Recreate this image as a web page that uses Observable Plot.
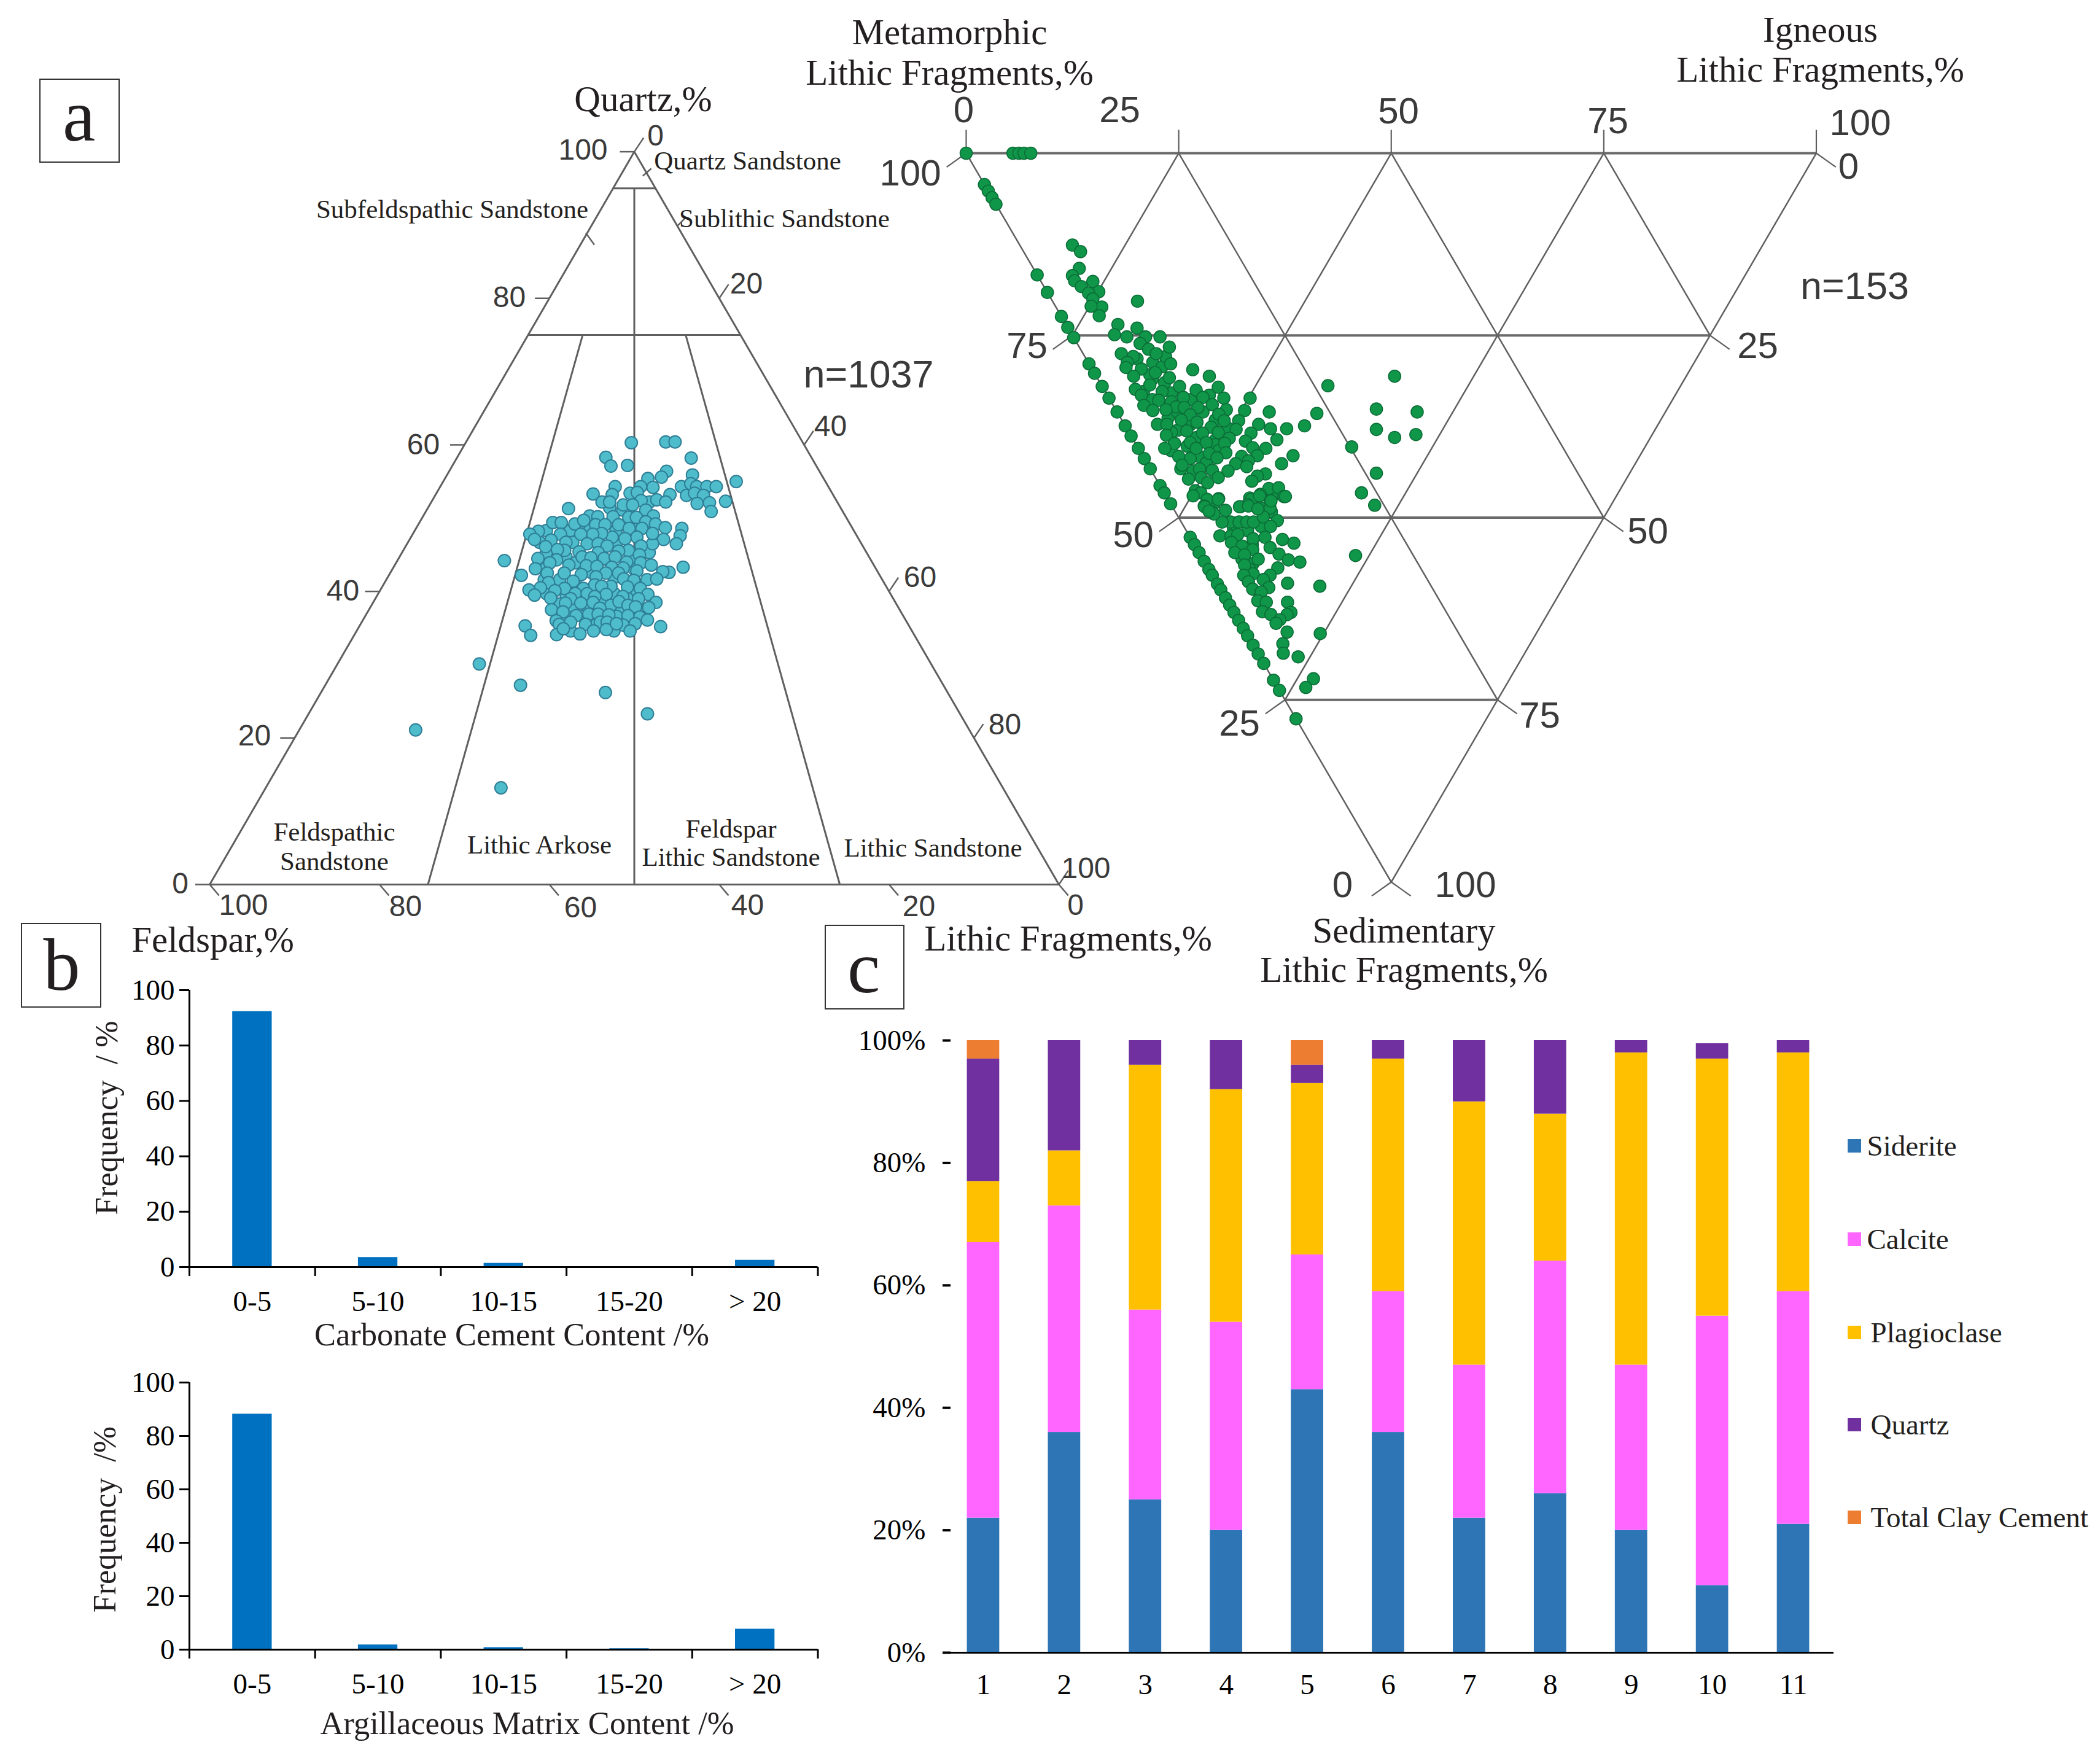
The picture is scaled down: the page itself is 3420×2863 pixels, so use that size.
<!DOCTYPE html>
<html><head><meta charset="utf-8">
<script src="https://cdn.jsdelivr.net/npm/d3@7"></script>
<script src="https://cdn.jsdelivr.net/npm/@observablehq/plot@0.6"></script>
<style>
html,body{margin:0;padding:0;background:#fff}
#page{position:relative;width:3420px;height:2863px;overflow:hidden;background:#fff}
#page svg{position:absolute;max-width:none}
.box{position:absolute;border:2.5px solid #333;box-sizing:border-box}
.sw{position:absolute;width:22px;height:22px}
</style></head><body><div id="page"></div>
<script>
// ---- Panel a: QFL framework, [quartz %, lithic %] (feldspar = 100 - quartz - lithic)
const qflHidden = [
[45.3,17.0],[46.7,19.4],[46.7,24.6],[45.3,29.1],[44.7,19.6],[43.0,17.9],[41.6,20.4],[43.9,21.1],[42.5,23.8],[44.4,24.1],[44.4,27.5],[43.0,28.5],[41.9,26.7],[41.1,22.5],[41.6,18.6],[40.2,25.0],[39.4,22.3],[38.8,24.6],[39.7,27.8],[39.9,29.7],[38.6,26.8],[39.1,29.6],[38.3,22.1],[37.7,23.9],[38.0,25.5],[37.4,29.4],[37.4,32.3],[34.6,25.2],[36.6,25.7],[35.5,27.8],[36.6,29.6],[34.6,30.3],[36.6,23.7],[39.7,19.8],[48.9,19.1],[48.3,23.7],[48.9,25.8],[48.3,20.6],[48.3,18.3],[48.3,15.5],[46.7,15.5],[51.1,23.1],[51.4,21.4],[52.2,25.7]];
const qflSamples = [
[60.3,19.5],[60.4,23.5],[60.4,24.6],[58.3,17.5],[57.1,18.7],[57.2,20.6],[58.2,27.6],[56.4,25.6],[55.6,25.4],[55.4,23.9],[55.9,28.9],[54.3,28.4],[54.7,29.3],[54.3,30.2],[54.3,31.4],[54.3,32.5],[55.0,34.5],[53.1,29.6],[53.4,30.4],[53.1,31.6],[52.0,31.4],[52.1,32.8],[52.3,34.6],[50.9,33.6],[53.2,27.6],[52.5,26.4],[52.2,27.6],[54.2,25.1],[54.3,23.6],[54.3,20.6],[53.3,18.5],[53.2,20.8],[53.4,22.8],[53.5,23.6],[52.4,24.6],[52.2,20.1],[52.2,21.0],[51.8,22.8],[51.8,23.9],[51.1,25.8],[51.3,16.6],[50.3,19.6],[50.2,20.6],[50.2,22.4],[50.1,24.3],[50.1,25.2],[50.3,27.1],[49.5,26.6],[49.4,15.7],[49.4,16.7],[49.2,18.4],[49.7,19.2],[49.1,20.9],[49.1,22.0],[49.1,23.6],[48.6,25.1],[48.6,26.6],[49.2,27.9],[48.7,29.3],[48.6,31.3],[47.6,31.6],[46.5,31.7],[47.1,29.9],[46.5,28.9],[47.9,28.2],[47.4,26.6],[47.2,25.3],[47.4,23.7],[47.9,22.2],[47.8,21.2],[47.8,19.8],[47.8,17.4],[48.2,14.6],[47.8,13.8],[47.1,14.7],[47.0,16.7],[46.7,18.6],[46.1,16.5],[46.5,21.2],[46.5,22.5],[46.2,23.7],[46.2,27.7],[45.6,26.5],[45.5,25.4],[45.6,19.0],[45.7,18.1],[45.4,20.8],[45.3,23.1],[45.0,28.1],[44.5,16.4],[44.3,18.7],[44.7,21.5],[44.6,22.6],[44.5,24.2],[44.7,25.4],[44.0,27.1],[43.9,28.8],[43.6,30.2],[44.2,12.6],[43.1,16.8],[43.9,18.1],[43.6,20.5],[43.5,22.6],[43.4,23.9],[43.3,25.7],[43.2,27.1],[42.8,28.9],[43.3,34.1],[42.6,32.8],[42.7,32.0],[42.5,18.5],[42.5,20.5],[42.3,22.6],[42.5,25.4],[42.5,26.9],[42.2,15.6],[42.0,24.5],[41.7,27.9],[41.6,30.7],[41.7,31.8],[41.2,19.3],[41.4,22.1],[40.9,24.9],[40.7,26.9],[41.5,29.2],[40.5,18.7],[40.4,21.6],[40.4,23.8],[40.7,25.8],[40.6,28.9],[40.4,30.5],[40.2,17.5],[39.5,18.5],[40.1,20.6],[39.7,23.2],[39.7,24.6],[39.6,26.9],[39.3,29.0],[39.6,31.8],[39.1,20.6],[39.0,23.0],[39.3,25.7],[39.0,31.0],[38.4,22.7],[38.4,24.5],[38.5,25.9],[38.1,28.2],[38.6,28.9],[38.1,30.2],[37.9,31.2],[38.5,33.3],[37.8,32.8],[37.7,27.1],[37.5,21.5],[37.2,23.0],[36.7,24.8],[36.9,26.2],[36.9,27.3],[36.8,28.6],[36.7,30.9],[36.5,32.4],[36.0,22.8],[35.5,23.4],[35.8,24.6],[35.5,26.5],[35.8,28.1],[35.8,28.9],[35.4,31.0],[35.6,32.3],[36.1,33.5],[35.3,19.5],[35.2,35.5],[34.0,20.8],[34.1,23.8],[34.2,26.5],[34.6,27.9],[34.8,29.3],[34.6,32.2],[34.9,24.2],[35.6,30.1],
[30.1,16.7],[27.2,23.0],[26.2,33.5],[23.3,39.9],[21.1,13.7],[13.2,27.7]];
const qTicks = [100,80,60,40,20,0];
const lTicks = [0,20,40,60,80,100];
const fTicks = [100,80,60,40,20,0];

// ---- Panel a, right: lithic fragments, [sedimentary %, igneous %] (metamorphic = 100 - both)
const lithicOnEdge = [[16.7,0],[19.1,0],[22.4,0],[23.9,0],[25.3,0],[28.9,0],[30.2,0],[32.0,0],[33.6,0],[35.5,0],[37.4,0],[38.8,0],[40.5,0],[41.9,0],[43.3,0],[45.6,0],[46.6,0],[48.1,0],[52.7,0],[53.7,0],[54.8,0],[56.0,0],[57.1,0],[57.9,0],[59.1,0],[59.9,0],[61.0,0],[62.0,0],[63.0,0],[64.1,0],[65.2,0],[66.2,0],[67.5,0],[68.7,0],[70.0,0],[72.3,0],[73.7,0],[77.6,0],[4.3,0],[5.2,0],[6.1,0],[7.0,0],[0,0],[0,5.5],[0,6.2],[0,6.8],[0,7.6]];
const lithicHidden = [[31.0,6.4],[31.5,7.6],[32.7,4.5],[32.9,7.7],[33.8,9.5],[34.1,7.1],[33.2,12.0],[33.8,5.0],[36.3,5.6],[35.5,7.1],[37.2,7.8],[35.5,10.1],[36.6,11.0],[38.0,5.9],[39.0,7.6],[39.3,9.7],[37.7,11.9],[40.8,3.7],[40.2,5.9],[41.6,6.6],[40.0,9.3],[41.9,5.4],[42.5,7.0],[38.3,5.0],[40.8,9.3],[43.3,3.6],[43.6,4.9],[28.2,6.0],[28.7,7.6],[29.3,8.4],[27.9,9.5],[30.4,6.4],[51.5,5.7],[51.8,7.2],[51.2,9.1],[53.7,6.8],[55.7,4.6],[56.3,5.6],[57.1,4.8],[48.1,5.1],[49.0,6.0],[49.0,10.8],[49.2,11.3],[47.3,9.7],[46.7,12.0],[46.7,13.4]];
const lithicSamples = [
[12.6,6.2],[13.5,6.7],[15.8,5.4],[16.8,4.1],[17.5,4.0],[18.3,4.4],[17.6,6.1],[19.0,6.1],[19.2,4.8],[20.0,4.9],[21.1,5.4],[21.0,4.2],[22.3,4.5],[20.3,10.0],[23.5,6.1],[24.9,5.0],[25.2,6.3],[24.0,8.1],[25.2,8.5],[25.2,10.2],[26.1,7.4],[26.9,8.0],[26.6,10.6],[27.5,8.6],[27.5,4.5],[27.9,5.7],[28.9,9.6],[28.7,4.6],[29.4,4.1],[29.6,5.8],[30.1,7.2],[29.7,11.8],[30.6,13.3],[32.1,13.6],[30.6,4.4],[30.8,8.5],[31.8,5.7],[32.0,9.1],[32.4,3.7],[32.7,6.7],[33.2,4.0],[32.5,10.8],[33.5,8.8],[33.5,11.1],[33.6,13.5],[34.6,3.6],[33.9,5.7],[34.5,11.7],[34.8,7.3],[34.9,9.8],[35.3,4.3],[35.2,5.9],[34.9,8.2],[35.2,13.0],[35.9,8.4],[35.8,11.8],[35.3,15.1],[33.6,16.6],[35.5,17.9],[37.2,3.9],[37.2,5.0],[36.6,7.0],[36.9,8.7],[37.6,10.0],[36.7,12.0],[36.7,13.7],[37.9,12.8],[37.2,15.8],[37.8,16.9],[37.8,18.8],[37.4,21.1],[35.7,23.4],[31.9,26.6],[38.7,4.2],[38.1,6.9],[38.4,8.6],[38.3,10.5],[38.4,14.3],[39.1,11.4],[39.5,13.1],[39.3,16.9],[39.8,4.6],[39.7,6.5],[39.7,8.4],[39.8,10.5],[40.5,3.1],[40.5,6.8],[41.2,8.0],[41.1,10.0],[40.4,13.5],[40.5,15.0],[41.6,4.2],[41.8,8.6],[41.6,11.6],[41.5,13.5],[41.5,17.7],[42.6,15.8],[42.2,12.1],[42.6,10.4],[42.8,4.0],[43.6,9.0],[43.5,7.2],[43.3,5.8],[44.7,3.8],[44.5,5.4],[45.2,5.8],[44.5,7.4],[43.0,11.5],[44.0,13.2],[44.3,12.1],[45.0,11.1],[46.3,3.8],[46.6,4.3],[47.0,3.2],[47.5,4.6],[47.4,6.0],[48.4,3.8],[49.2,4.3],[46.0,12.6],[45.9,13.8],[46.8,11.2],[47.1,13.8],[47.7,11.9],[47.5,9.8],[48.5,8.0],[48.2,9.0],[48.7,10.3],[48.7,11.4],
[30.6,35.1],[35.1,30.7],[35.5,35.3],[37.9,29.3],[39.0,30.9],[38.6,33.6],[40.3,25.2],[43.9,26.3],[46.6,23.2],[48.3,23.9],
[52.5,3.6],[50.6,5.8],[50.6,4.8],[50.6,6.8],[50.6,7.7],[50.6,8.5],[49.9,10.0],[50.4,11.4],[51.2,10.2],[48.5,3.8],[49.5,4.4],[47.5,5.9],[48.5,7.9],[48.4,9.0],[47.0,11.0],[47.7,12.0],[47.1,14.0],[48.8,9.9],[49.1,4.0],[52.5,4.9],[52.3,5.8],[52.9,7.3],[52.7,8.8],[53.0,10.7],[53.5,11.8],[53.4,4.5],[53.9,5.5],[54.4,6.5],[54.1,8.7],[55.0,9.3],[54.8,4.2],[55.1,5.2],[55.7,6.5],[55.8,10.0],[56.1,11.2],[56.5,4.5],[56.9,8.2],[57.7,4.9],[57.9,3.7],[57.9,6.8],[58.5,5.7],[58.8,3.8],[59.0,8.3],[59.4,11.9],[59.8,3.8],[59.6,5.8],[60.2,4.6],[61.4,3.6],[61.6,4.5],[61.6,7.0],[62.9,3.4],[63.3,4.2],[63.0,6.7],[63.3,6.1],[64.0,4.9],[64.5,4.2],[55.2,18.2],[65.7,4.9],[65.9,8.7],[67.3,3.6],[68.6,3.0],[69.1,4.5],[72.1,4.8],[73.3,3.3]];
const gridTicks = [25,50,75];
const edgeTicks = [0,25,50,75,100];

// ---- Panel b
const bins = ["0-5","5-10","10-15","15-20","> 20"];
const carbonateFreq = [92.3,3.5,1.4,0.2,2.5];
const matrixFreq = [88.2,1.8,0.8,0.4,7.7];

// ---- Panel c
const samples = [1,2,3,4,5,6,7,8,9,10,11];
const components = ["Siderite","Calcite","Plagioclase","Quartz","Total Clay Cement"];
const colors = ["#2e75b6","#ff66ff","#ffc000","#7030a0","#ed7d31"];
const siderite = [22,36,25,20,43,36,22,26,20,11,21];
const calcite = [45,37,31,34,22,23,25,38,27,44,38];
const plagioclase = [10,9,40,38,28,38,43,24,51,42,39];
const quartz = [20,18,4,8,3,3,10,12,2,2.5,2];
const clay = [3,0,0,0,4,0,0,0,0,0,0];

const page = document.getElementById("page");
const SERIF = "Liberation Serif", SANS = "Liberation Sans";
const LINE = "#5f5f5f";
function place(svg,left,top){svg.style.left=left+"px";svg.style.top=top+"px";page.appendChild(svg);return svg;}
const base = {style:{background:"transparent",overflow:"visible",maxWidth:"none"}};

// ---------- QFL ternary ----------
const u = (q,l)=>l+q/2;
const seg = (a,b)=>({x1:u(...a),y1:a[0],x2:u(...b),y2:b[0]});
const qflLines = [
  seg([100,0],[0,0]),seg([100,0],[0,100]),seg([0,0],[0,100]),
  seg([95,0],[95,5]),seg([75,0],[75,25]),seg([95,2.5],[0,50]),
  seg([75,25*.257],[0,100*.257]),seg([75,25*.742],[0,100*.742])
];
const qflStubs = [
  ...qTicks.map(q=>({x1:q/2,y1:q,x2:q/2-1.7,y2:q})),
  ...lTicks.map(l=>({x1:l+(100-l)/2,y1:100-l,x2:l+(100-l)/2+1.1,y2:100-l+1.9})),
  ...fTicks.map(f=>({x1:100-f,y1:0,x2:100-f+1.1,y2:-1.5})),
  {x1:44.3,y1:88.9,x2:45.3,y2:87.3},{x1:55.1,y1:89.9,x2:56.1,y2:91.1},{x1:51.0,y1:96.7,x2:52.0,y2:97.7}
];
const linkOpts = {x1:"x1",y1:"y1",x2:"x2",y2:"y2",stroke:LINE};
place(Plot.plot({...base,width:1800,height:1500,marginLeft:341,marginRight:76,marginTop:246.6,marginBottom:60,
  x:{domain:[0,100],axis:null},y:{domain:[0,100],axis:null},
  marks:[
    Plot.link(qflLines,{...linkOpts,strokeWidth:3}),
    Plot.link(qflStubs,{...linkOpts,strokeWidth:2.5}),
    Plot.dot([...qflHidden,...qflSamples],{x:d=>u(d[0],d[1]),y:d=>d[0],r:10,fill:"#4ebccb",stroke:"#2f7f96",strokeWidth:2,fillOpacity:1})
  ]}),0,0);

// ---------- Lithic ternary ----------
const sLines = gridTicks.flatMap(t=>[
  {x1:t/2,y1:t,x2:100-t/2,y2:t},              // sedimentary = t
  {x1:t,y1:0,x2:t+(100-t)/2,y2:100-t},        // igneous = t
  {x1:t,y1:0,x2:t/2,y2:t}                     // metamorphic = 100 - t
]);
const lOutline = [{x1:0,y1:0,x2:100,y2:0},{x1:0,y1:0,x2:50,y2:100},{x1:100,y1:0,x2:50,y2:100}];
const lStubs = [
  ...edgeTicks.map(t=>({x1:t,y1:0,x2:t,y2:-3.2})),
  ...edgeTicks.map(t=>({x1:t/2,y1:t,x2:t/2-2.3,y2:t+1.9})),
  ...edgeTicks.map(t=>({x1:100-t/2,y1:t,x2:100-t/2+2.3,y2:t+1.9}))
];
place(Plot.plot({...base,width:1520,height:1300,marginLeft:73,marginRight:62.5,marginTop:49,marginBottom:64,
  x:{domain:[0,100],axis:null},y:{domain:[0,100],reverse:true,axis:null},
  marks:[
    Plot.link(sLines.filter(d=>d.y1===d.y2),{...linkOpts,strokeWidth:4,stroke:"#6a6a6a"}),
    Plot.link(sLines.filter(d=>d.y1!==d.y2),{...linkOpts,strokeWidth:2.5}),
    Plot.link(lOutline.slice(0,1),{...linkOpts,strokeWidth:4,stroke:"#6a6a6a"}),
    Plot.link(lOutline.slice(1),{...linkOpts,strokeWidth:2.5}),
    Plot.link(lStubs,{...linkOpts,strokeWidth:2.2}),
    Plot.dot([...lithicHidden,...lithicOnEdge,...lithicSamples],{x:d=>d[1]+d[0]/2,y:d=>d[0],r:10,fill:"#0f9648",stroke:"#0c6e38",strokeWidth:1.6,fillOpacity:1})
  ]}),1500,200);

// ---------- Panel b ----------
function freqPlot(values,top){
  return place(Plot.plot({...base,width:1250,height:560,marginLeft:158,marginRight:68.5,marginTop:32,marginBottom:560-32-(top===1580?451:435),
    x:{domain:[0,5],axis:null},y:{domain:[0,100],axis:null},
    marks:[
      Plot.rectY(values,{x1:(d,i)=>i+.343,x2:(d,i)=>i+.657,y:d=>d,fill:"#0070c0"}),
      Plot.axisY({ticks:[0,20,40,60,80,100],tickSize:16,tickPadding:8,fontSize:47,fontFamily:SERIF,color:"#000",strokeWidth:3,label:null,anchor:"left"}),
      Plot.axisX({ticks:[0,1,2,3,4,5],tickSize:15,tickFormat:()=>"",strokeWidth:3,label:null,anchor:"bottom",color:"#000"}),
      Plot.axisX({ticks:[.5,1.5,2.5,3.5,4.5],tickSize:0,tickPadding:38,tickFormat:d=>bins[Math.floor(d)],fontSize:47,fontFamily:SERIF,color:"#000",label:null,anchor:"bottom"}),
      Plot.ruleY([0],{stroke:"#000",strokeWidth:3}),
      Plot.ruleX([0],{stroke:"#000",strokeWidth:3})
    ]}),150,top);
}
freqPlot(carbonateFreq,1580);
freqPlot(matrixFreq,2219);

// ---------- Panel c ----------
const series = {Siderite:siderite,Calcite:calcite,Plagioclase:plagioclase,Quartz:quartz,"Total Clay Cement":clay};
const tidy = components.flatMap(c=>samples.map((s,i)=>({sample:s,component:c,value:series[c][i]})));
place(Plot.plot({...base,width:1640,height:1130,marginLeft:155,marginRight:34,marginTop:34,marginBottom:99,
  x:{type:"band",domain:samples,paddingInner:.6,paddingOuter:.3,round:false,label:null,axis:null},
  y:{domain:[0,100],axis:null},
  color:{domain:components,range:colors},
  marks:[
    Plot.barY(tidy,{x:"sample",y:"value",fill:"component",order:components}),
    Plot.axisY({ticks:[0,20,40,60,80,100],tickSize:0,tickPadding:28,tickFormat:d=>d+"%",fontSize:47,fontFamily:SERIF,color:"#000",label:null,anchor:"left"}),
    Plot.axisY({ticks:[0,20,40,60,80,100],tickSize:13,dx:13,tickFormat:()=>"",color:"#000",strokeWidth:4,label:null,anchor:"left"}),
    Plot.axisX({domain:samples,tickSize:0,tickPadding:34,fontSize:47,fontFamily:SERIF,color:"#000",label:null,anchor:"bottom"}),
    Plot.ruleY([0],{stroke:"#000",strokeWidth:3}),
    Plot.ruleX([0],{stroke:"#000",strokeWidth:4})
  ]}),1380,1660);

// ---------- Text layer ----------
const serif59 = [
 {t:"Quartz,%",x:1047,y:162},{t:"Feldspar,%",x:346,y:1531},{t:"Lithic Fragments,%",x:1739,y:1529},
 {t:"Metamorphic",x:1546,y:53},{t:"Lithic Fragments,%",x:1546,y:119},
 {t:"Igneous",x:2964,y:49},{t:"Lithic Fragments,%",x:2964,y:114},
 {t:"Sedimentary",x:2286,y:1516},{t:"Lithic Fragments,%",x:2286,y:1580}];
const serif43 = [
 {t:"Quartz Sandstone",x:1217,y:262},{t:"Subfeldspathic Sandstone",x:736,y:341},{t:"Sublithic Sandstone",x:1277,y:356},
 {t:"Feldspathic",x:544,y:1355},{t:"Sandstone",x:544,y:1403},{t:"Lithic Arkose",x:878,y:1376},
 {t:"Feldspar",x:1190,y:1350},{t:"Lithic Sandstone",x:1190,y:1396},{t:"Lithic Sandstone",x:1519,y:1381}];
const serif52 = [
 {t:"Carbonate Cement Content /%",x:833,y:2174},{t:"Argillaceous Matrix Content /%",x:858,y:2807}];
const freqLabels = [{t:"Frequency  / %",x:174,y:1820},{t:"Frequency  /%",x:171,y:2474}];
const letters = [{t:"a",x:128,y:190},{t:"b",x:100,y:1573},{t:"c",x:1406,y:1577}];
const sans48 = [
 {t:"100",x:949,y:244},{t:"80",x:829,y:484},{t:"60",x:689,y:724},{t:"40",x:558,y:962},{t:"20",x:414,y:1198},{t:"0",x:293,y:1439},
 {t:"0",x:1067,y:221},{t:"20",x:1215,y:462},{t:"40",x:1352,y:694},{t:"60",x:1498,y:940},{t:"80",x:1636,y:1180},{t:"100",x:1768,y:1414},
 {t:"100",x:396,y:1474},{t:"80",x:660,y:1476},{t:"60",x:945,y:1478},{t:"40",x:1217,y:1474},{t:"20",x:1496,y:1476},{t:"0",x:1751,y:1474}];
const sans60 = [
 {t:"0",x:1569,y:179},{t:"25",x:1823,y:179},{t:"50",x:2277,y:181},{t:"75",x:2618,y:197},{t:"100",x:3029,y:200},
 {t:"100",x:1482,y:282},{t:"75",x:1672,y:563},{t:"50",x:1845,y:871},{t:"25",x:2018,y:1178},{t:"0",x:2186,y:1441},
 {t:"0",x:3010,y:271},{t:"25",x:2862,y:563},{t:"50",x:2683,y:865},{t:"75",x:2507,y:1165},{t:"100",x:2386,y:1441}];
const sans63 = [{t:"n=1037",x:1414,y:610},{t:"n=153",x:3020,y:466}];
const legendY = [1866,2018,2170,2320,2471];
const legendX = [3040,3040,3046,3046,3046];
const legendText = components.map((c,i)=>({t:c,x:legendX[i],y:legendY[i]}));
const txt = (items,size,family,extra={})=>Plot.text(items,{x:"x",y:"y",text:"t",fontSize:size,fontFamily:family,fill:"#231f20",lineAnchor:"middle",...extra});
place(Plot.plot({...base,width:3420,height:2863,margin:0,
  x:{domain:[0,3420],axis:null},y:{domain:[2863,0],axis:null},
  marks:[
    txt(serif59,59,SERIF),txt(serif43,43,SERIF),txt(serif52,52.5,SERIF),
    txt(freqLabels,52,SERIF,{rotate:-90}),txt(letters,120,SERIF),
    txt(sans48,48,SANS,{fill:"#3a3a3a"}),txt(sans60,60,SANS,{fill:"#3a3a3a"}),txt(sans63,63,SANS,{fill:"#3a3a3a"}),
    txt(legendText,47,SERIF,{textAnchor:"start"})
  ]}),0,0);

// boxes and legend swatches
[[64,128,131,137],[34,1503,131,138],[1343,1506,130,138]].forEach(([l,t,w,h])=>{
  const b=document.createElement("div");b.className="box";
  b.style.cssText=`left:${l}px;top:${t}px;width:${w}px;height:${h}px`;page.appendChild(b);});
components.forEach((c,i)=>{const s=document.createElement("div");s.className="sw";
  s.style.cssText=`left:3009px;top:${legendY[i]-11}px;background:${colors[i]}`;page.appendChild(s);});
</script></body></html>
